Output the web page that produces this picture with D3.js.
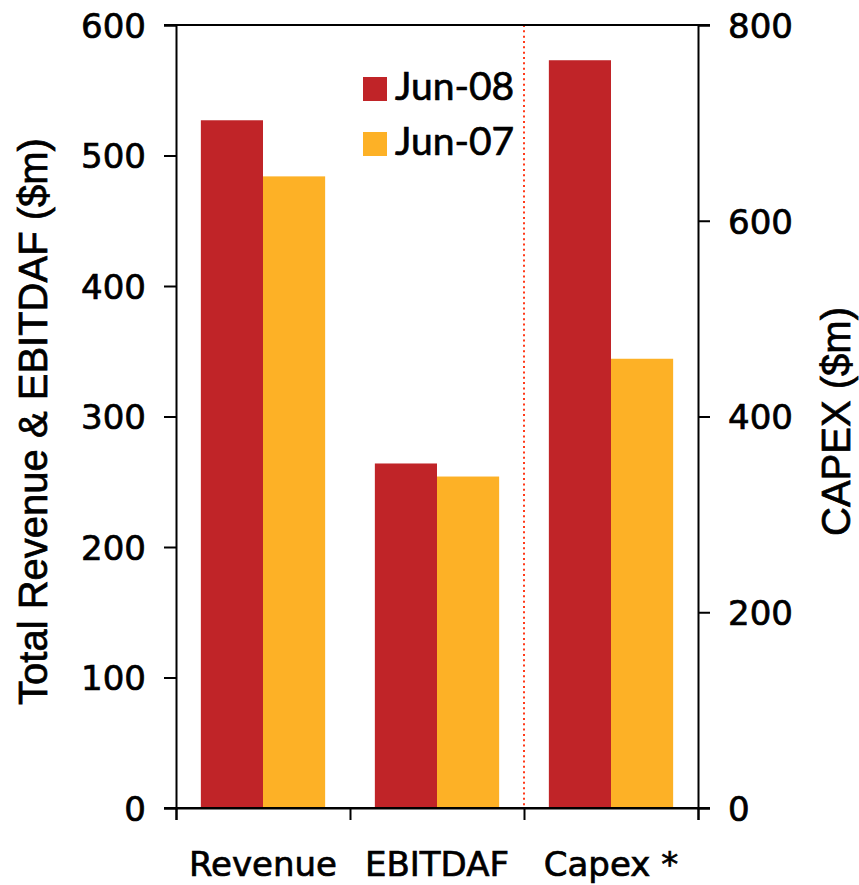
<!DOCTYPE html>
<html>
<head>
<meta charset="utf-8">
<script src="https://cdn.jsdelivr.net/npm/d3@7"></script>
<style>
  html, body { margin: 0; padding: 0; background: #fff; }
  svg { display: block; }
</style>
</head>
<body>
<script>
// Financial results, $m (Revenue & EBITDAF on left axis, Capex on right axis)
const categories = ["Revenue", "EBITDAF", "Capex *"];
const seriesNames = ["Jun-08", "Jun-07"];
const jun08 = [527, 264, 764];
const jun07 = [484, 254, 459];
const categoryAxis = ["left", "left", "right"];
const leftTicks = [0, 100, 200, 300, 400, 500, 600];
const rightTicks = [0, 200, 400, 600, 800];
const leftTitle = "Total Revenue & EBITDAF ($m)";
const rightTitle = "CAPEX ($m)";

const W = 859, H = 885;
const margin = { top: 25, right: 161, bottom: 77, left: 176 };
const colors = { "Jun-08": "#C02428", "Jun-07": "#FDB126" };
const tickFont = "'DejaVu Sans', sans-serif";
const titleFont = "'Liberation Sans', Arial, sans-serif";
const textStroke = 0.7;

const svg = d3.select("body").append("svg").attr("width", W).attr("height", H);

const x0 = margin.left, x1 = W - margin.right;
const y0 = H - margin.bottom, y1 = margin.top;

const x = d3.scaleBand().domain(categories).range([x0, x1]).paddingInner(0).paddingOuter(0);
const xs = d3.scaleBand().domain(seriesNames).range([0, x.bandwidth()]).paddingInner(0).paddingOuter(0.4);
const yL = d3.scaleLinear().domain([0, 600]).range([y0, y1]);
const yR = d3.scaleLinear().domain([0, 800]).range([y0, y1]);

const rows = categories.map((c, i) => ({
  cat: c,
  scale: categoryAxis[i] === "left" ? yL : yR,
  values: [
    { s: "Jun-08", v: jun08[i] },
    { s: "Jun-07", v: jun07[i] }
  ]
}));

// Bars
const g = svg.append("g");
rows.forEach(r => {
  g.selectAll(null).data(r.values).enter().append("rect")
    .attr("x", d => x(r.cat) + xs(d.s))
    .attr("width", xs.bandwidth())
    .attr("y", d => r.scale(d.v))
    .attr("height", d => y0 - r.scale(d.v))
    .attr("fill", d => colors[d.s]);
});

// Dotted separator before the Capex group
svg.append("line")
  .attr("x1", x("Capex *")).attr("x2", x("Capex *"))
  .attr("y1", y1).attr("y2", y0)
  .attr("stroke", "#FF3A1A").attr("stroke-width", 2)
  .attr("stroke-dasharray", "2,3.33");

// Left axis
const axL = svg.append("g").attr("transform", `translate(${x0},0)`)
  .call(d3.axisLeft(yL).tickValues(leftTicks).tickSize(12).tickPadding(18));
// Right axis
const axR = svg.append("g").attr("transform", `translate(${x1},0)`)
  .call(d3.axisRight(yR).tickValues(rightTicks).tickSize(12).tickPadding(18));
// Bottom axis with ticks at category boundaries
const boundaries = categories.map(c => x(c)).concat([x1]);
svg.append("g").attr("transform", `translate(0,${y0})`)
  .call(d3.axisBottom(d3.scaleLinear().domain([x0, x1]).range([x0, x1]))
    .tickValues(boundaries).tickSize(12).tickFormat(""));

[axL, axR].forEach(a => {
  a.selectAll("text").attr("font-family", tickFont).attr("font-size", 34)
    .attr("fill", "#000").attr("stroke", "#000").attr("stroke-width", textStroke)
    .attr("dy", "0.36em");
});
svg.selectAll(".domain").attr("stroke", "#000").attr("stroke-width", 2);
svg.selectAll(".tick line").attr("stroke", "#000").attr("stroke-width", 2);

// Plot frame top and bottom lines
svg.append("line").attr("x1", x0 - 12).attr("x2", x1 + 12).attr("y1", y1).attr("y2", y1)
  .attr("stroke", "#000").attr("stroke-width", 2);
svg.append("line").attr("x1", x0 - 12).attr("x2", x1 + 12).attr("y1", y0).attr("y2", y0)
  .attr("stroke", "#000").attr("stroke-width", 2);

// Category labels
svg.selectAll(".cat").data(categories).enter().append("text")
  .attr("x", d => x(d) + x.bandwidth() / 2)
  .attr("y", 876)
  .attr("text-anchor", "middle")
  .attr("font-family", tickFont).attr("font-size", 34)
  .attr("fill", "#000").attr("stroke", "#000").attr("stroke-width", textStroke)
  .text(d => d);

// Axis titles
svg.append("text")
  .attr("transform", `translate(47,${(y0 + y1) / 2 + 5}) rotate(-90)`)
  .attr("text-anchor", "middle")
  .attr("font-family", titleFont).attr("font-size", 40)
  .attr("fill", "#000").attr("stroke", "#000").attr("stroke-width", textStroke)
  .text(leftTitle);
svg.append("text")
  .attr("transform", `translate(850,${(y0 + y1) / 2 + 5}) rotate(-90)`)
  .attr("text-anchor", "middle")
  .attr("font-family", titleFont).attr("font-size", 40)
  .attr("fill", "#000").attr("stroke", "#000").attr("stroke-width", textStroke)
  .text(rightTitle);

// Legend
const leg = svg.append("g").attr("transform", "translate(363,77)");
seriesNames.forEach((s, i) => {
  const row = leg.append("g").attr("transform", `translate(0,${i * 55})`);
  row.append("rect").attr("width", 24).attr("height", 24).attr("fill", colors[s]);
  row.append("text").attr("x", 32).attr("y", 23)
    .attr("font-family", "Lato, sans-serif").attr("font-size", 39)
    .attr("fill", "#000").attr("stroke", "#000").attr("stroke-width", textStroke)
    .text(s);
});
</script>
</body>
</html>
